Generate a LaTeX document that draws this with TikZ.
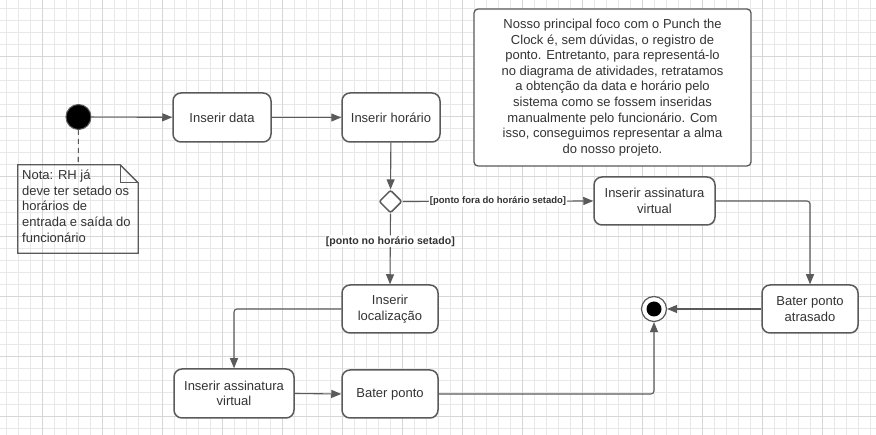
\documentclass[tikz,border=0pt]{standalone}
\usepackage{fontspec}
\setmainfont{Liberation Sans}
\usetikzlibrary{arrows.meta,shapes.geometric,calc}
\definecolor{gminor}{HTML}{E8E8E8}
\definecolor{gmajor}{HTML}{D6D6D6}
\definecolor{lineC}{HTML}{5A5A5A}
\definecolor{txtC}{HTML}{333333}
\tikzset{
  actbox/.style={draw=lineC, line width=1.5pt, rounded corners=8pt, fill=white,
    minimum width=96pt, minimum height=48pt, align=center, text=txtC,
    font=\fontsize{13}{15.5}\selectfont, inner sep=2pt},
  conn/.style={draw=lineC, line width=1.1pt, rounded corners=3pt,
    -{Triangle[length=10pt,width=8pt]}},
  guard/.style={fill=white, text=txtC, font=\fontsize{9.5}{11}\selectfont\bfseries, inner sep=1pt},
  guardbig/.style={guard, font=\fontsize{10.6}{12}\selectfont\bfseries},
  gridminor/.style={draw=gminor, line width=0.8pt},
  gridmajor/.style={draw=gmajor, line width=0.9pt},
}
\begin{document}
\begin{tikzpicture}[x=1pt,y=-1pt]
\useasboundingbox (0,0) rectangle (876,435);
\fill[white] (0,0) rectangle (876,435);
% grid
\foreach \x in {6,18,...,870} \draw[gridminor] (\x,0) -- (\x,435);
\foreach \y in {8,20,...,430} \draw[gridminor] (0,\y) -- (876,\y);
\foreach \x in {42,102,...,860} \draw[gridmajor] (\x,0) -- (\x,435);
\foreach \y in {56,116,...,430} \draw[gridmajor] (0,\y) -- (876,\y);

% initial node
\node[circle, fill=black, draw=lineC, line width=1pt, minimum size=25pt, inner sep=0pt] (init) at (78.5,117) {};

% note
\node[minimum width=120pt, minimum height=88pt, inner sep=0pt] (note) at (78,209) {};
\node[anchor=north west, align=left, text=txtC, font=\fontsize{13}{15.6}\selectfont, inner sep=0pt] (notetext) at (22,170)
  {Nota: RH já\\deve ter setado os\\horários de\\entrada e saída do\\funcionário};
\draw[draw=lineC, line width=1.3pt, line join=miter]
  (note.north west) -- ($(note.north east)+(-18,0)$) -- ($(note.north east)+(0,18)$) -- (note.south east) -- (note.south west) -- cycle;
\draw[draw=lineC, line width=1pt] ($(note.north east)+(-18,0)$) -- ($(note.north east)+(-18,18)$) -- ($(note.north east)+(0,18)$);
\draw[draw=lineC, line width=1.1pt, dash pattern=on 5pt off 4pt] (init) -- (note);

% comment box
\node[draw=lineC, line width=1.3pt, rounded corners=4pt, fill=white, minimum width=277pt, minimum height=157pt,
  align=center, text=txtC, font=\fontsize{13}{15.6}\selectfont, inner sep=0pt] (comment) at (612.5,87.5)
  {Nosso principal foco com o Punch the\\Clock é, sem dúvidas, o registro de\\ponto. Entretanto, para representá-lo\\no diagrama de atividades, retratamos\\a obtenção da data e horário pelo\\sistema como se fossem inseridas\\manualmente pelo funcionário. Com\\isso, conseguimos representar a alma\\do nosso projeto.};

% activities
\node[actbox, minimum width=98pt, minimum height=49pt] (data) at (222,117.5) {Inserir data};
\node[actbox, minimum width=98pt, minimum height=49pt] (hora) at (391,117.5) {Inserir horário};
\node[diamond, aspect=1, draw=lineC, line width=1.5pt, fill=white, minimum width=23pt, minimum height=23pt, inner sep=0pt, rounded corners=2pt] (dec) at (390.5,201.5) {};
\node[actbox, minimum width=121pt, minimum height=48pt] (assR) at (654.5,201) {Inserir assinatura\\virtual};
\node[actbox, minimum width=96pt, minimum height=48pt] (atras) at (810,309) {Bater ponto\\atrasado};
\node[circle, draw=lineC, line width=1.2pt, fill=white, minimum size=25pt, inner sep=0pt] (fin) at (654,309) {};
\fill[black] (fin.center) circle (7.5pt);
\node[actbox, minimum width=96pt, minimum height=48pt] (loc) at (390,309) {Inserir\\localização};
\node[actbox, minimum width=120pt, minimum height=49pt] (assL) at (234,393.5) {Inserir assinatura\\virtual};
\node[actbox, minimum width=96pt, minimum height=48pt] (bater) at (390,394) {Bater ponto};

% connectors
\draw[conn] (init) -- (data);
\draw[conn] (data) -- (hora);
\draw[conn] (hora) -- (dec);
\draw[conn] (dec.east) -- node[guard, pos=0.5] {[ponto fora do horário setado]} (assR.west);
\draw[conn] (dec.south) -- node[guardbig, pos=0.39] {[ponto no horário setado]} (loc.north);
\draw[conn] (assR.east) -| (atras.north);
\draw[conn] (atras.west) -- (fin.east);
\draw[conn] (loc.west) -| (assL.north);
\draw[conn] (assL.east) -- (bater.west);
\draw[conn] (bater.east) -| (fin.south);
\end{tikzpicture}
\end{document}
